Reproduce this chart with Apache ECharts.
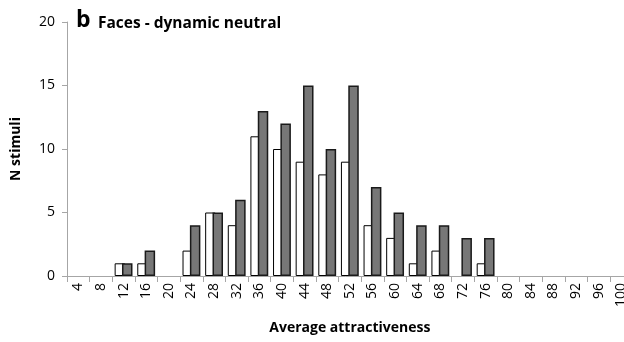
<!DOCTYPE html>
<html><head><meta charset="utf-8">
<script src="https://cdn.jsdelivr.net/npm/echarts@6/dist/echarts.min.js"></script>
<style>html,body{margin:0;padding:0;background:#fff}#c{width:624px;height:342px}</style>
</head><body><div id="c"></div>
<script>
const categories = ['4','8','12','16','20','24','28','32','36','40','44','48','52','56','60','64','68','72','76','80','84','88','92','96','100'];
const whiteSeries = [0,0,1,1,0,2,5,4,11,10,9,8,9,4,3,1,2,0,1,0,0,0,0,0,0];
const graySeries  = [0,0,1,2,0,4,5,6,13,12,15,10,15,7,5,4,4,3,3,0,0,0,0,0,0];
const yTicks = [0,5,10,15,20];

const hideZero = arr => arr.map(v => v === 0 ? '-' : v);
const FONT = '"Open Sans", "Liberation Sans", sans-serif';
const chart = echarts.init(document.getElementById('c'), null, {renderer:'canvas'});
chart.setOption({
  animation:false,
  backgroundColor:'#fff',
  title:[
    {text:'b', left:71, top:4, textStyle:{fontFamily:FONT, fontWeight:'bold', fontSize:23, color:'#000'}},
    {text:'Faces - dynamic neutral', left:93, top:11, textStyle:{fontFamily:FONT, fontWeight:'bold', fontSize:15.5, color:'#000'}}
  ],
  grid:{left:67, width:565.7, top:22, bottom:66, containLabel:false, outerBoundsMode:'none'},
  xAxis:{
    type:'category', data:categories,
    name:'Average attractiveness', nameLocation:'middle', nameGap:45,
    nameTextStyle:{fontFamily:FONT, fontWeight:'bold', fontSize:14, color:'#000'},
    axisLine:{lineStyle:{color:'#a6a6a6', width:1}},
    axisTick:{show:true, length:6, lineStyle:{color:'#a6a6a6'}},
    axisLabel:{rotate:90, interval:0, margin:7, fontFamily:FONT, fontSize:14, color:'#000'}
  },
  yAxis:{
    type:'value', min:0, max:20, interval:5,
    name:'N stimuli', nameLocation:'middle', nameGap:44,
    nameTextStyle:{fontFamily:FONT, fontWeight:'bold', fontSize:14, color:'#000'},
    axisLine:{show:true, lineStyle:{color:'#a6a6a6', width:1}},
    axisTick:{show:true, length:5, lineStyle:{color:'#a6a6a6'}},
    splitLine:{show:false},
    axisLabel:{margin:12, fontFamily:FONT, fontSize:14, color:'#000',
      formatter:v => yTicks.includes(v) ? String(v) : ''}
  },
  series:[
    {type:'bar', data:hideZero(whiteSeries), barWidth:10.5, barGap:'-30%',
     itemStyle:{color:'#ffffff', borderColor:'#000', borderWidth:1}},
    {type:'bar', data:hideZero(graySeries), barWidth:10.5, barGap:'-30%',
     itemStyle:{color:'#777777', borderColor:'#1a1a1a', borderWidth:1.5}}
  ]
});
</script></body></html>
